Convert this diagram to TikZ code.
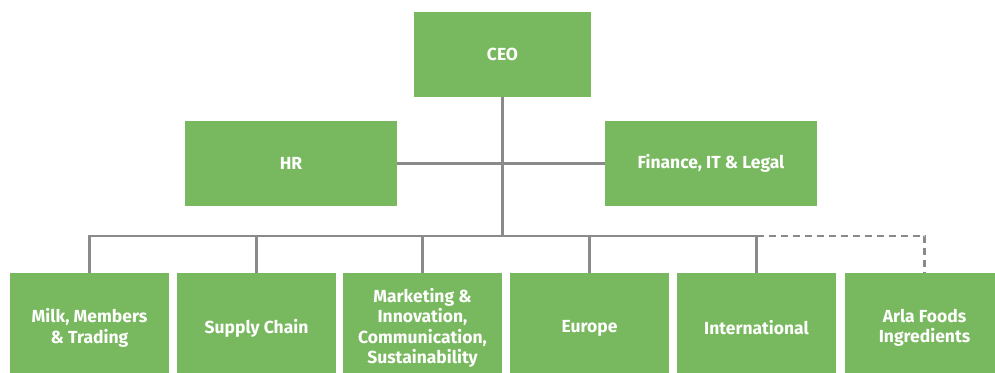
\documentclass[tikz,border=0pt]{standalone}
\usepackage{fontspec}
\setmainfont{Fira Sans}
\definecolor{boxgreen}{HTML}{78B85E}
\definecolor{linegray}{HTML}{8A8A8A}
\begin{document}
\begin{tikzpicture}[x=1pt, y=-1pt,
    unit/.style={rectangle, fill=boxgreen, text=white, align=center, inner sep=0pt,
                 font=\fontsize{17.5}{20.5}\selectfont\bfseries},
    top/.style={unit, minimum width=177pt, minimum height=85pt},
    staff/.style={unit, minimum width=212pt, minimum height=85pt},
    area/.style={unit, minimum width=159pt, minimum height=110pt},
    link/.style={draw=linegray, line width=2.6pt}]
    \useasboundingbox (0,0) rectangle (995,372);
    \clip (0,0) rectangle (995,372);

    % Nodes
    \node (ceo) [top] at (502.5, 54.5) {CEO};
    \node (hr) [staff] at (291, 163.5) {HR};
    \node (fin) [staff] at (711, 163.5) {Finance, IT \& Legal};
    \node (1) [area] at (89.5, 328) {Milk, Members\\\& Trading};
    \node (2) [area] at (256.5, 328) {Supply Chain};
    \node (3) [area] at (422.5, 328) {Marketing \&\\Innovation,\\Communication,\\Sustainability};
    \node (4) [area] at (589.5, 328) {Europe};
    \node (5) [area] at (756.5, 328) {International};
    \node (6) [area] at (924.5, 328) {Arla Foods\\Ingredients};
    \coordinate (bus) at (502.5, 236);

    % Edges
    \draw[link] (ceo.south) -- (bus);
    \draw[link] (hr.east) -- (fin.west);
    \draw[link] (1.north) |- (bus) -| (5.north);
    \draw[link] (2.north) -- (2.north |- bus);
    \draw[link] (3.north) -- (3.north |- bus);
    \draw[link] (4.north) -- (4.north |- bus);
    \draw[link, dashed, dash pattern=on 7pt off 5pt] (5.north |- bus) -| (6.north);

\end{tikzpicture}
\end{document}
